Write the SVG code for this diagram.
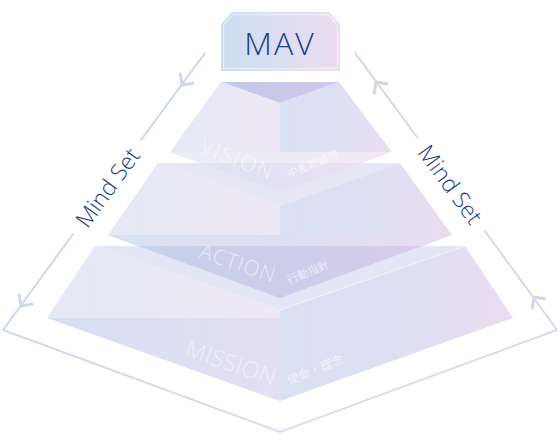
<svg xmlns="http://www.w3.org/2000/svg" width="560" height="448" viewBox="0 0 560 448">
<style>
.lbl{font-family:"Open Sans","Lato","Liberation Sans",sans-serif;font-weight:300;fill:#ffffff;fill-opacity:0.55}
.jp{font-family:"Noto Sans CJK JP","Noto Sans",sans-serif;font-weight:400;fill:#ffffff;fill-opacity:0.6}
.ms{font-family:"Open Sans","Lato","Liberation Sans",sans-serif;font-weight:300;font-size:23px;fill:#1d3e86}
.ln{fill:none;stroke-width:2;stroke-linecap:round;stroke-linejoin:miter}
.chev{fill:none;stroke:#d3d9e2;stroke-width:3;stroke-linecap:round;stroke-linejoin:miter}
.band{fill:#ffffff;fill-opacity:0.35}
</style>
<defs>
<linearGradient id="gMav" x1="0" y1="0" x2="1" y2="0">
<stop offset="0" stop-color="#cbdcf0"/><stop offset="0.5" stop-color="#dcdff2"/><stop offset="1" stop-color="#ecdbf0"/>
</linearGradient>
<linearGradient id="gTop" x1="0" y1="0" x2="1" y2="0">
<stop offset="0" stop-color="#c2c9e9"/><stop offset="1" stop-color="#d2c7eb"/>
</linearGradient>
<linearGradient id="gLeftUp" x1="0" y1="0" x2="1" y2="0">
<stop offset="0" stop-color="#e5e8f5"/><stop offset="1" stop-color="#eee7f6"/>
</linearGradient>
<linearGradient id="gRight" x1="0" y1="0" x2="1" y2="0">
<stop offset="0" stop-color="#d9e1f2"/><stop offset="0.6" stop-color="#e0dff2"/><stop offset="1" stop-color="#eadcf1"/>
</linearGradient>
<linearGradient id="gDark" x1="0" y1="0" x2="1" y2="0">
<stop offset="0" stop-color="#c6d3eb"/><stop offset="0.5" stop-color="#cccdeb"/><stop offset="1" stop-color="#dccbed"/>
</linearGradient>
<linearGradient id="gLow1" x1="0" y1="0" x2="1" y2="0">
<stop offset="0" stop-color="#dfe3f3"/><stop offset="0.5" stop-color="#e3e1f3"/><stop offset="1" stop-color="#ecdef2"/>
</linearGradient>
<linearGradient id="gLow3" x1="0" y1="0" x2="1" y2="0">
<stop offset="0" stop-color="#d5e0f1"/><stop offset="1" stop-color="#e4def2"/>
</linearGradient>
<linearGradient id="gLineL" gradientUnits="userSpaceOnUse" x1="0" y1="53" x2="280" y2="432">
<stop offset="0" stop-color="#c6d2ee"/><stop offset="1" stop-color="#dcdcf2"/>
</linearGradient>
<linearGradient id="gLineR" gradientUnits="userSpaceOnUse" x1="560" y1="53" x2="280" y2="432">
<stop offset="0" stop-color="#d6d0ef"/><stop offset="1" stop-color="#e6d8f2"/>
</linearGradient>
</defs>

<g id="tier-mission">
<polygon points="95,246 465,246 280,310" fill="#e5e6f5"/>
<polygon points="95,246 280,310 280,318 47,318" fill="url(#gLeftUp)"/>
<polygon points="47,318 280,318 280,401" fill="url(#gLow3)"/>
<polygon points="280,310 465,246 513,318 280,401" fill="url(#gRight)"/>
<line x1="280" y1="310" x2="465" y2="246" stroke="#ffffff" stroke-opacity="0.5" stroke-width="1"/>
<text class="lbl" font-size="23" letter-spacing="0.5" text-anchor="end" transform="translate(273,386) rotate(19)">MISSION</text>
<text class="jp" font-size="12" transform="translate(289,385) rotate(-22)">使命・理念</text>
</g>

<g id="tier-action">
<polygon points="158,163 400,163 280,206" fill="#e6e6f5"/>
<polygon points="158,163 280,206 280,235 108,235" fill="url(#gLeftUp)"/>
<polygon points="280,206 400,163 452,235 280,235" fill="url(#gRight)"/>
<polygon points="108,235 452,235 280,298" fill="url(#gDark)"/>
<polygon class="band" points="108,235 452,235 422,246 138,246"/>
<text class="lbl" font-size="21" letter-spacing="1" text-anchor="end" transform="translate(273,283) rotate(19)">ACTION</text>
<text class="jp" font-size="11" transform="translate(289,284) rotate(-22)">行動指針</text>
</g>

<g id="tier-vision">
<polygon points="221,82 339,82 280,103" fill="url(#gTop)"/>
<polygon points="221,82 280,103 280,152 170,152" fill="url(#gLeftUp)"/>
<polygon points="280,103 339,82 392,152 280,152" fill="url(#gRight)"/>
<polygon points="170,152 392,152 280,192" fill="url(#gLow1)"/>
<polygon class="band" points="170,152 392,152 362,163 200,163"/>
<text class="lbl" font-size="21" letter-spacing="2" text-anchor="end" transform="translate(271,180) rotate(21)">VISION</text>
<text class="jp" font-size="11" transform="translate(289,178) rotate(-22)">中長期目標</text>
</g>

<g id="mav">
<polygon points="232,12 329,12 340,24 340,71 221,71 221,24" fill="url(#gMav)"/>
<polygon points="233,14.5 328,14.5 337.5,25 337.5,68.5 223.5,68.5 223.5,25" fill="none" stroke="#ffffff" stroke-opacity="0.45" stroke-width="1.5"/>
<text x="280" y="55" text-anchor="middle" font-family="'Open Sans','Lato','Liberation Sans',sans-serif" font-weight="300" font-size="32" letter-spacing="2" fill="#20407f">MAV</text>
</g>

<g id="connectors">
<polyline class="ln" stroke="url(#gLineL)" points="205,53 141,140"/>
<polyline class="ln" stroke="url(#gLineL)" points="73,234 3,330 280,432"/>
<polyline class="ln" stroke="url(#gLineR)" points="355,53 417,137"/>
<polyline class="ln" stroke="url(#gLineR)" points="485,231 557,330 280,432"/>
<polyline class="chev" points="180.3,74.1 182,85 192.9,83.3"/>
<polyline class="chev" points="19.3,295.1 21,306 31.9,304.3"/>
<polyline class="chev" points="386.9,83.7 376,82 374.3,92.9"/>
<polyline class="chev" points="544.9,298.7 534,297 532.3,307.9"/>
</g>

<g id="mindset-left">
<text class="ms" text-anchor="middle" dominant-baseline="central" transform="translate(107,187) rotate(-53.9)">Mind Set</text>
</g>
<g id="mindset-right">
<text class="ms" text-anchor="middle" dominant-baseline="central" transform="translate(451,184) rotate(53.9)">Mind Set</text>
</g>
</svg>
